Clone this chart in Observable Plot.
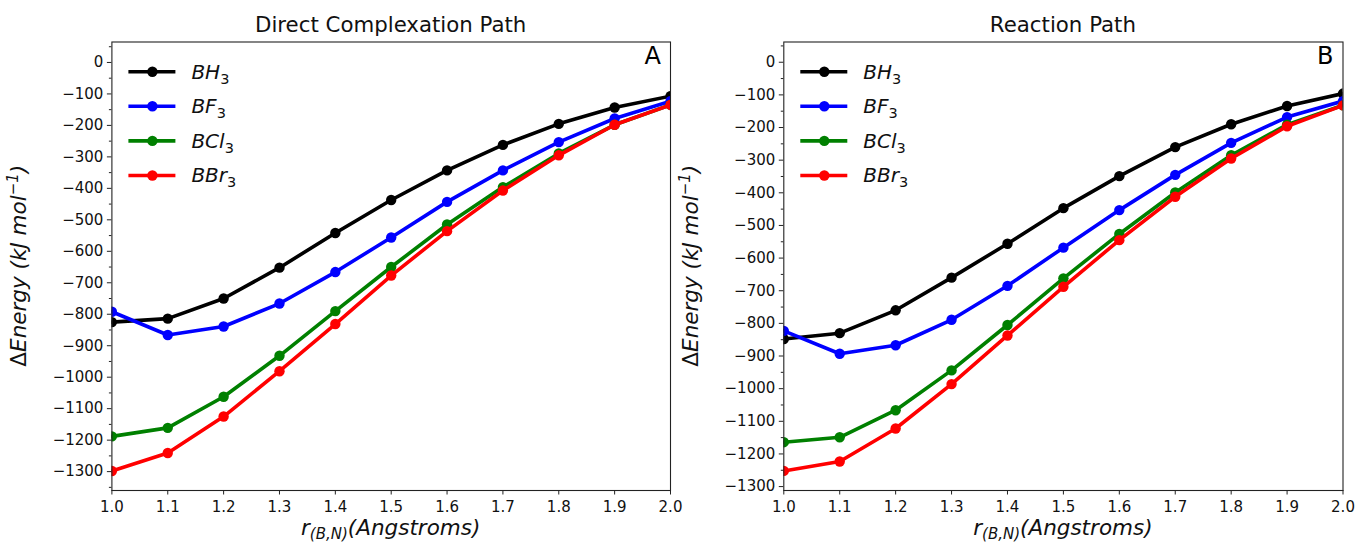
<!DOCTYPE html>
<html><head><meta charset="utf-8">
<script src="https://cdn.jsdelivr.net/npm/d3@7"></script>
<script src="https://cdn.jsdelivr.net/npm/@observablehq/plot@0.6"></script>
<style>
body{margin:0;background:#fff}
#wrap{position:relative;width:1356px;height:545px;overflow:hidden}
#wrap svg{position:absolute;top:0}
</style>
</head><body><div id="wrap"></div>
<script>
// ---- data ----
const rValues = [1.0, 1.1, 1.2, 1.3, 1.4, 1.5, 1.6, 1.7, 1.8, 1.9, 2.0];
const seriesNames = ["BH3", "BF3", "BCl3", "BBr3"];
const seriesColors = ["#000000", "#0000ff", "#008000", "#ff0000"];

const directBH3  = [-825, -814, -750, -652, -542, -437, -343, -262, -195, -143, -107];
const directBF3  = [-792, -866, -839, -766, -666, -556, -443, -343, -253, -178, -123];
const directBCl3 = [-1188, -1161, -1062, -932, -790, -650, -515, -396, -289, -198, -135];
const directBBr3 = [-1298, -1241, -1125, -981, -831, -677, -536, -407, -295, -198, -135];

const reactionBH3  = [-848, -830, -760, -660, -556, -447, -349, -260, -190, -134, -96];
const reactionBF3  = [-823, -893, -867, -789, -685, -568, -453, -345, -247, -168, -119];
const reactionBCl3 = [-1164, -1149, -1066, -944, -805, -662, -526, -399, -285, -191, -132];
const reactionBBr3 = [-1252, -1223, -1122, -986, -837, -688, -545, -412, -295, -196, -132];

const xTicks = [1.0, 1.1, 1.2, 1.3, 1.4, 1.5, 1.6, 1.7, 1.8, 1.9, 2.0];
const yMajorTicks = [0, -100, -200, -300, -400, -500, -600, -700, -800, -900, -1000, -1100, -1200, -1300];
const yMinorTicks = [50, -50, -150, -250, -350, -450, -550, -650, -750, -850, -950, -1050, -1150, -1250, -1350];

const panelTitles = ["Direct Complexation Path", "Reaction Path"];
const panelLetters = ["A", "B"];

// ---- drawing ----
const FONT = "DejaVu Sans";
const W_TOP = 41.5, W_BOTTOM = 55, H = 545;
const fmtY = d => d < 0 ? "\u2212" + Math.abs(d) : String(d);

function makePanel(cfg) {
  const rows = [];
  cfg.series.forEach((vals, si) => {
    vals.forEach((v, i) => rows.push({r: rValues[i], e: v, s: seriesNames[si]}));
  });
  const marks = [];
  seriesNames.forEach(name => {
    const sub = rows.filter(d => d.s === name);
    marks.push(Plot.line(sub, {x: "r", y: "e", stroke: "s", strokeWidth: 3.6, clip: true}));
    marks.push(Plot.dot(sub, {x: "r", y: "e", fill: "s", r: 5.2, clip: true}));
  });
  marks.push(Plot.axisX({ticks: xTicks, tickFormat: d => d.toFixed(1), tickSize: 4.5, tickPadding: 6, label: null}));
  marks.push(Plot.axisY({ticks: yMajorTicks, tickFormat: fmtY, tickSize: 4.5, tickPadding: 4, label: null}));
  marks.push(Plot.axisY({ticks: yMinorTicks.filter(t => t >= cfg.yDomain[0] && t <= cfg.yDomain[1]), tickSize: 2.5, tickFormat: () => "", label: null}));
  marks.push(Plot.frame({stroke: "#222", strokeWidth: 1.1}));

  const svg = Plot.plot({
    width: cfg.width, height: H,
    marginLeft: cfg.marginLeft, marginRight: cfg.marginRight,
    marginTop: W_TOP, marginBottom: W_BOTTOM,
    style: {fontFamily: FONT, fontSize: "15px", color: "#000", background: "transparent", overflow: "visible"},
    x: {domain: [1, 2]},
    y: {domain: cfg.yDomain},
    color: {domain: seriesNames, range: seriesColors},
    marks
  });
  svg.style.left = cfg.left + "px";
  const g = d3.select(svg);
  // enforce tick label font
  g.selectAll("g[aria-label$='tick label']").attr("font-size", 15).style("font-size", "15px")
    .attr("font-family", FONT).attr("fill", "#111");
  g.selectAll("g[aria-label$='tick']").attr("stroke", "#222");

  const x0 = cfg.marginLeft, x1 = cfg.width - cfg.marginRight;
  const cx = (x0 + x1) / 2;
  const y0 = W_TOP, y1 = H - W_BOTTOM;

  // title
  g.append("text").attr("x", cx).attr("y", 32).attr("text-anchor", "middle")
    .attr("font-family", FONT).attr("font-size", 21.3).attr("fill", "#111").text(cfg.title);
  // panel letter
  g.append("text").attr("x", x1 - 9).attr("y", 63.5).attr("text-anchor", "end")
    .attr("font-family", FONT).attr("font-size", 24).attr("fill", "#000").text(cfg.letter);

  // x label
  const xl = g.append("text").attr("x", cx).attr("y", 535).attr("text-anchor", "middle")
    .attr("font-family", FONT).attr("font-size", 21.5).attr("font-style", "italic").attr("fill", "#111");
  xl.append("tspan").text("r");
  xl.append("tspan").attr("dy", 4).attr("font-size", 15).text("(B,N)");
  xl.append("tspan").attr("dy", -4).text("(Angstroms)");

  // y label
  const yl = g.append("text").attr("transform", `translate(${x0 - 85},${(y0 + y1) / 2}) rotate(-90)`)
    .attr("text-anchor", "middle").attr("font-family", FONT).attr("font-size", 21.5).attr("fill", "#111");
  yl.append("tspan").text("Δ");
  yl.append("tspan").attr("font-style", "italic").text("Energy (kJ mol");
  yl.append("tspan").attr("font-style", "italic").attr("dy", -8).attr("font-size", 15).text("−1");
  yl.append("tspan").attr("font-style", "italic").attr("dy", 8).text(")");

  // legend
  const legendLabels = [["BH", "3"], ["BF", "3"], ["BCl", "3"], ["BBr", "3"]];
  seriesNames.forEach((name, i) => {
    const ly = 71.7 + i * 34.6;
    const lx = x0 + 17;
    g.append("line").attr("x1", lx).attr("x2", lx + 47).attr("y1", ly).attr("y2", ly)
      .attr("stroke", seriesColors[i]).attr("stroke-width", 3.6);
    g.append("circle").attr("cx", lx + 24).attr("cy", ly).attr("r", 5.2).attr("fill", seriesColors[i]);
    const t = g.append("text").attr("x", lx + 63).attr("y", ly + 6.8).attr("text-anchor", "start")
      .attr("font-family", FONT).attr("font-size", 20).attr("fill", "#111");
    t.append("tspan").attr("font-style", "italic").text(legendLabels[i][0]);
    t.append("tspan").attr("dy", 5).attr("font-size", 14.5).text(legendLabels[i][1]);
  });
  document.getElementById("wrap").appendChild(svg);
}

makePanel({
  series: [directBH3, directBF3, directBCl3, directBBr3],
  yDomain: [-1360, 65], title: panelTitles[0], letter: panelLetters[0],
  left: 0, width: 680, marginLeft: 111.4, marginRight: 10
});
makePanel({
  series: [reactionBH3, reactionBF3, reactionBCl3, reactionBBr3],
  yDomain: [-1312, 62], title: panelTitles[1], letter: panelLetters[1],
  left: 680, width: 676, marginLeft: 103.3, marginRight: 13.5
});
</script>
</body></html>
